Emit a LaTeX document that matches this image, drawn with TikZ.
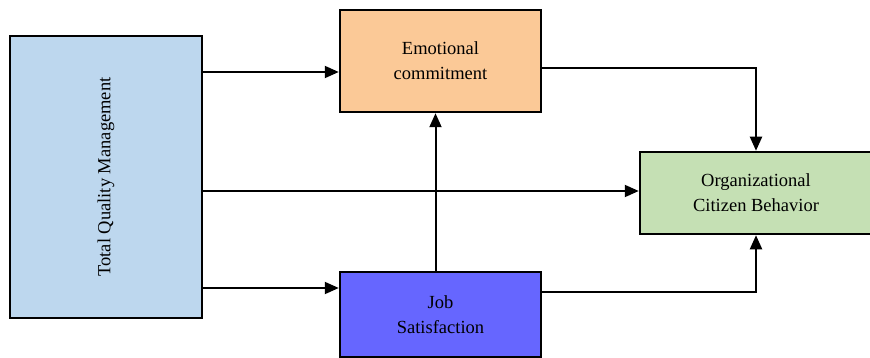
\documentclass[tikz,border=0pt]{standalone}
\usepackage{fontspec}
\setmainfont{Liberation Serif}
\usepackage{tikz}
\usetikzlibrary{arrows.meta}
\tikzset{>/.tip={Triangle[length=14pt,width=12pt]}}
\definecolor{tqmblue}{RGB}{189,215,238}
\definecolor{emopeach}{RGB}{251,201,151}
\definecolor{jobblue}{RGB}{102,102,255}
\definecolor{ocbgreen}{RGB}{197,224,180}
\tikzset{box/.style={draw, line width=2.5pt, align=center, inner sep=0pt,
  font=\fontsize{18.5}{25}\selectfont}}

\begin{document}
\begin{tikzpicture}[x=1pt, y=-1pt, line width=2pt]
\useasboundingbox (0,0) rectangle (870,358);
\node[box, fill=tqmblue, minimum width=192, minimum height=282] (tqm) at (106,177) {\rotatebox{90}{Total Quality Management}};
\node[box, fill=emopeach, minimum width=201, minimum height=102] (emo) at (440.5,61) {Emotional\\commitment};
\node[box, fill=jobblue, minimum width=201, minimum height=85] (job) at (440.5,314.5) {Job\\Satisfaction};
\node[box, fill=ocbgreen, minimum width=232, minimum height=82] (ocb) at (756,193) {Organizational\\Citizen Behavior};

\draw[->] (tqm.east |- 0,72) -- (emo.west |- 0,72);
\draw[->] (tqm.east |- 0,191) -- (ocb.west |- 0,191);
\draw[->] (tqm.east |- 0,288) -- (job.west |- 0,288);
\draw[->] ([xshift=-5]job.north) -- ([xshift=-5]emo.south);
\draw[->] (emo.east |- 0,68) -| (ocb.north);
\draw[->] (job.east |- 0,292) -| (ocb.south);
\end{tikzpicture}
\end{document}
